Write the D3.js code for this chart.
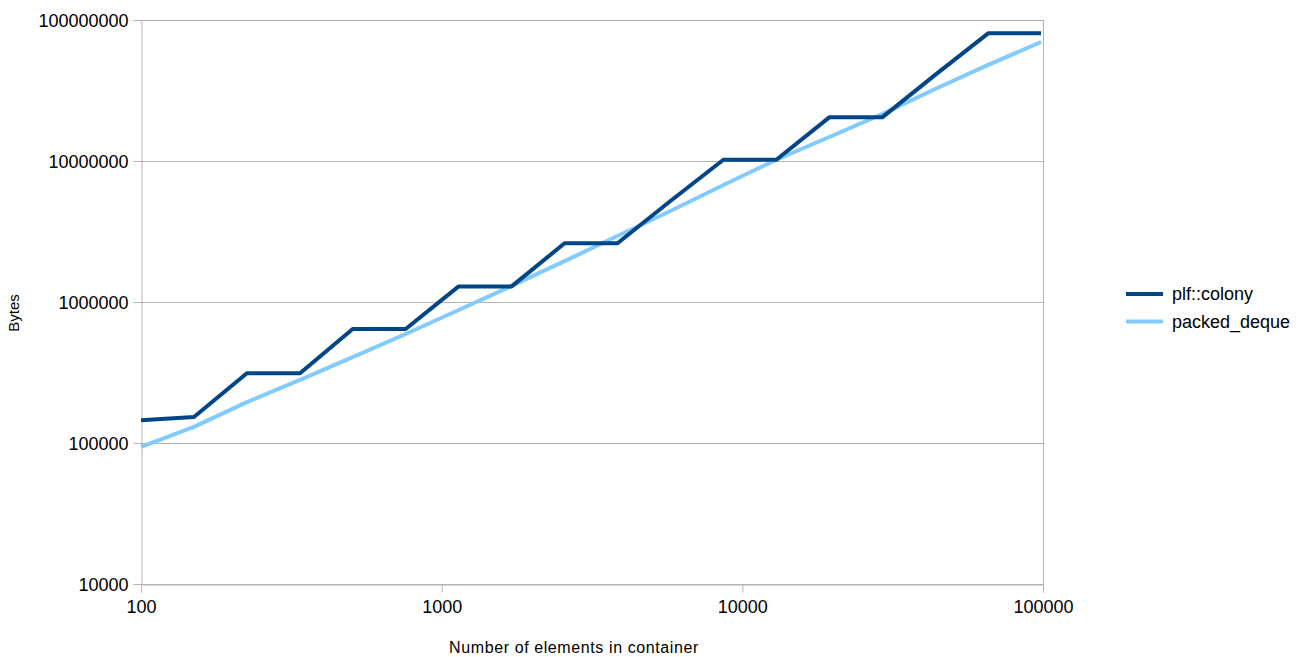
<!DOCTYPE html>
<html>
<head>
<meta charset="utf-8">
<script src="https://cdn.jsdelivr.net/npm/d3@7"></script>
<style>
  html, body { margin: 0; padding: 0; background: #fff; }
  svg { display: block; font-family: "Liberation Sans", Arial, sans-serif; }
</style>
</head>
<body>
<svg id="chart" width="1310" height="657"></svg>
<script>
// ---- data ----
const elementCounts = [100, 150, 225, 338, 506, 759, 1139, 1709, 2563, 3844, 5767, 8650, 12975, 19462, 29193, 43789, 65684, 98526];
const colonyBytes   = [145000, 153000, 312000, 312000, 644000, 644000, 1290000, 1290000, 2610000, 2610000, 5200000, 10200000, 10200000, 20400000, 20400000, 40800000, 80400000, 80400000];
const dequeBytes    = [93800, 130000, 195000, 280000, 407000, 593000, 877000, 1300000, 1950000, 2940000, 4420000, 6760000, 10200000, 14800000, 21500000, 32400000, 48000000, 69800000];
const seriesNames   = ["plf::colony", "packed_deque"];
const seriesColors  = ["#004586", "#83caff"];
const xTickValues   = [100, 1000, 10000, 100000];
const yTickValues   = [10000, 100000, 1000000, 10000000, 100000000];
const xTitle = "Number of elements in container";
const yTitle = "Bytes";

// ---- layout ----
const svg = d3.select("#chart");
const plotLeft = 141, plotRight = 1043, plotTop = 20, plotBottom = 584;

const x = d3.scaleLog().domain([100, 100000]).range([plotLeft, plotRight]);
const y = d3.scaleLog().domain([10000, 100000000]).range([plotBottom, plotTop]);

const gridColor = "#b3b3b3";

// gridlines
svg.append("g").selectAll("line").data(yTickValues).join("line")
  .attr("x1", plotLeft).attr("x2", plotRight)
  .attr("y1", d => Math.round(y(d)) + 0.5).attr("y2", d => Math.round(y(d)) + 0.5)
  .attr("stroke", gridColor).attr("stroke-width", 1);

// right frame
svg.append("line")
  .attr("x1", plotRight + 0.5).attr("x2", plotRight + 0.5)
  .attr("y1", plotTop).attr("y2", plotBottom)
  .attr("stroke", gridColor);

// axes
const yAxis = d3.axisLeft(y).tickValues(yTickValues).tickFormat(d3.format("d")).tickSize(8).tickPadding(5);
const gy = svg.append("g").attr("transform", `translate(${plotLeft + 0.5},0)`).call(yAxis);
const xAxis = d3.axisBottom(x).tickValues(xTickValues).tickFormat(d3.format("d")).tickSize(8).tickPadding(8);
const gx = svg.append("g").attr("transform", `translate(0,${plotBottom + 0.5})`).call(xAxis);

[gx, gy].forEach(g => {
  g.select(".domain").attr("stroke", gridColor);
  g.selectAll(".tick line").attr("stroke", gridColor);
  g.selectAll(".tick text").attr("fill", "#000").style("font-size", "18px").style("font-family", '"Liberation Sans", Arial, sans-serif');
});
gy.selectAll(".tick text").attr("dy", "0.34em");

// lines
const lineGen = d3.line().x((d, i) => x(elementCounts[i])).y(d => y(d));
const series = [colonyBytes, dequeBytes];
// draw deque first, colony on top
[1, 0].forEach(k => {
  svg.append("path")
    .datum(series[k])
    .attr("d", lineGen)
    .attr("fill", "none")
    .attr("stroke", seriesColors[k])
    .attr("stroke-width", 4)
    .attr("stroke-linejoin", "round");
});

// axis titles
svg.append("text")
  .attr("x", 574).attr("y", 653)
  .attr("text-anchor", "middle")
  .style("font-size", "16px")
  .style("letter-spacing", "0.6px")
  .attr("fill", "#000")
  .text(xTitle);

svg.append("text")
  .attr("transform", "translate(19,313) rotate(-90)")
  .attr("text-anchor", "middle")
  .style("font-size", "15px")
  .attr("fill", "#000")
  .text(yTitle);

// legend
const legend = svg.append("g");
seriesNames.forEach((name, i) => {
  const ly = 294 + i * 27.5;
  legend.append("line")
    .attr("x1", 1126).attr("x2", 1163)
    .attr("y1", ly).attr("y2", ly)
    .attr("stroke", seriesColors[i]).attr("stroke-width", 4);
  legend.append("text")
    .attr("x", 1172).attr("y", ly)
    .attr("dy", "0.34em")
    .style("font-size", "18px")
    .attr("fill", "#000")
    .text(name);
});
</script>
</body>
</html>
